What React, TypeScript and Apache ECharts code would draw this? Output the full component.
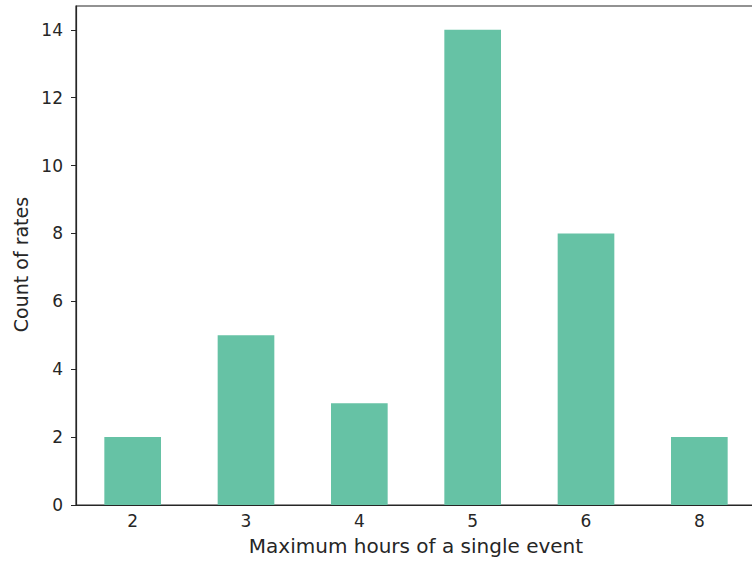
import React, { useEffect, useRef } from "react";
import * as echarts from "echarts";

const categories = ["2", "3", "4", "5", "6", "8"];
const counts = [2, 5, 3, 14, 8, 2];
const yTicks = [0, 2, 4, 6, 8, 10, 12, 14];

export default function App() {
  const ref = useRef<HTMLDivElement>(null);
  useEffect(() => {
    if (!ref.current) return;
    const chart = echarts.init(ref.current, null, { renderer: "svg" });
    const font = "DejaVu Sans";
    chart.setOption({
      animation: false,
      backgroundColor: "#ffffff",
      grid: {
        left: 76,
        top: 6,
        width: 680,
        height: 499,
        show: true,
        borderColor: "#262626",
        borderWidth: 1.2,
        containLabel: false,
      },
      xAxis: {
        type: "category",
        data: categories,
        boundaryGap: true,
        name: "Maximum hours of a single event",
        nameLocation: "middle",
        nameGap: 31,
        nameTextStyle: { fontFamily: font, fontSize: 20, color: "#262626" },
        axisLine: { lineStyle: { color: "#262626", width: 1.2 } },
        axisTick: { alignWithLabel: true, length: 5, lineStyle: { color: "#262626" } },
        axisLabel: { fontFamily: font, fontSize: 17, color: "#262626", margin: 7 },
        splitLine: { show: false },
      },
      yAxis: {
        type: "value",
        min: 0,
        max: 14.7,
        interval: 2,
        name: "Count of rates",
        nameLocation: "middle",
        nameGap: 46,
        nameTextStyle: { fontFamily: font, fontSize: 19, color: "#262626", padding: [0, 18, 0, 0] },
        axisLine: { show: true, lineStyle: { color: "#262626", width: 1.2 } },
        axisTick: { show: true, length: 5, customValues: yTicks, lineStyle: { color: "#262626" } },
        axisLabel: {
          fontFamily: font,
          fontSize: 17,
          color: "#262626",
          margin: 13,
          customValues: yTicks,
        },
        splitLine: { show: false },
      },
      series: [
        {
          type: "bar",
          data: counts,
          barWidth: "50%",
          itemStyle: { color: "#66c2a5" },
        },
      ],
    });
    return () => chart.dispose();
  }, []);
  return (
    <div
      style={{ position: "fixed", left: 0, top: 0, width: 752, height: 562, overflow: "hidden", background: "#fff" }}
    >
      <div ref={ref} style={{ width: 766, height: 562 }} />
    </div>
  );
}
